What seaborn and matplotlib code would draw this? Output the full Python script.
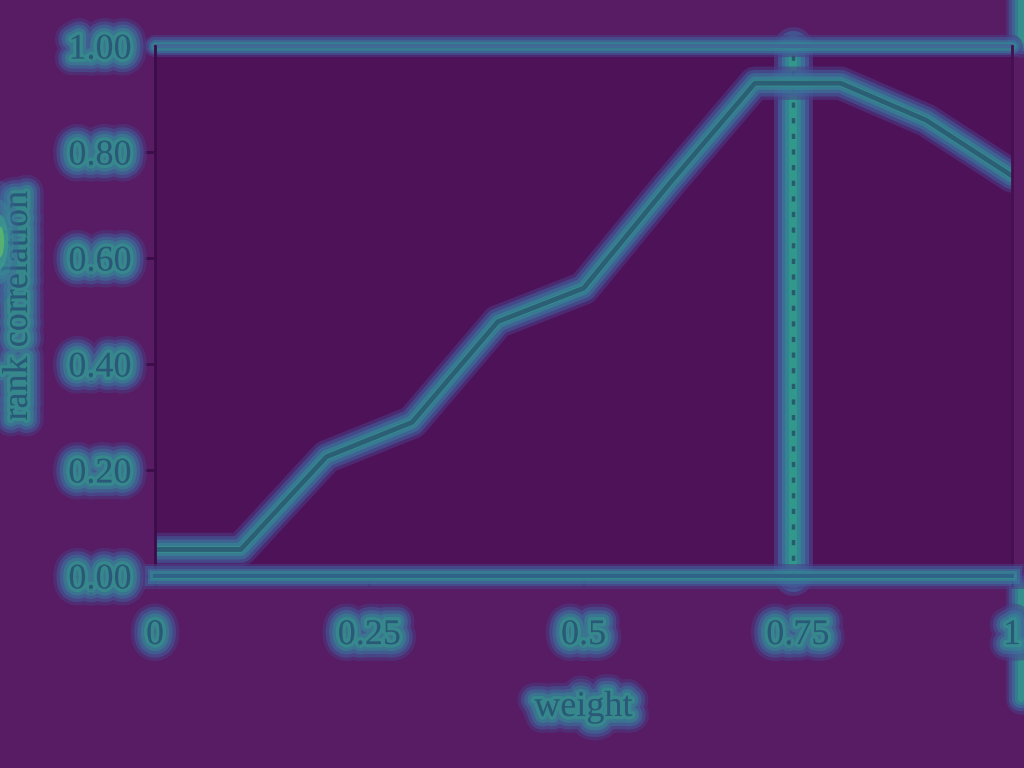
import numpy as np
import pandas as pd
import matplotlib
matplotlib.use("Agg")
import matplotlib.pyplot as plt
import matplotlib.patheffects as pe
from matplotlib.patches import Ellipse
from matplotlib.lines import Line2D
import seaborn as sns

# values
weight = [0.0, 0.1, 0.2, 0.3, 0.4, 0.5, 0.6, 0.7, 0.8, 0.9, 1.0]
rank_corr = [0.05, 0.05, 0.225, 0.29, 0.48, 0.543, 0.74, 0.93, 0.93, 0.86, 0.755]
best_weight = 0.745
xticks = [0, 0.25, 0.5, 0.75, 1]
xticklabels = ["0", "0.25", "0.5", "0.75", "1"]
yticks = [0.0, 0.2, 0.4, 0.6, 0.8, 1.0]

df = pd.DataFrame({"weight": weight, "rank correlation": rank_corr})

sns.set_style("ticks")
plt.rcParams["font.family"] = ["Liberation Serif", "DejaVu Serif"]

bg_out = "#571c63"
bg_in = "#4e1259"
ink = "#2a5878"
dark = "#3a0d48"

# soft glow made of stacked strokes, wide+faint outside, narrow+green inside
glow_cols = ["#4a3f86", "#40609c", "#3a7a9c", "#328f92", "#33a08a"]

def glow(width, normal=True, strength=1.0):
    effs = []
    n = len(glow_cols)
    for i, c in enumerate(glow_cols):
        w = width * (1 - i / n)
        effs.append(pe.Stroke(linewidth=w, foreground=c, alpha=min(1, 0.55 * strength)))
    if normal:
        effs.append(pe.Normal())
    return effs

text_glow = glow(24, strength=0.85)

fig = plt.figure(figsize=(10.24, 7.68), dpi=100, facecolor=bg_out)
ax = fig.add_axes([0.1514, 0.25, 0.8369, 0.69])
ax.set_facecolor(bg_in)

# glow under the best-weight marker, then the dotted line itself
ax.axvline(best_weight, color="#33a08a", linewidth=0.1, clip_on=False,
           path_effects=glow(28, normal=False, strength=1.3))
ax.axvline(best_weight, color="#2a5a70", linestyle=(0, (1.5, 3)), linewidth=2.5)

ax.axhline(1.0, color="#3f6a95", linewidth=3, path_effects=glow(16), clip_on=False)

sns.lineplot(data=df, x="weight", y="rank correlation", ax=ax, color="#2c5f76",
             linewidth=3.5, path_effects=glow(24))

ax.set_xlim(0, 1)
ax.set_ylim(0, 1)
ax.set_xticks(xticks)
ax.set_xticklabels(xticklabels)
ax.set_yticks(yticks)
ax.set_yticklabels([f"{v:.2f}" for v in yticks])
ax.tick_params(axis="both", labelsize=26, colors=dark, labelcolor=ink,
               length=7, width=2, direction="out")
ax.tick_params(axis="x", pad=24)
ax.tick_params(axis="y", pad=10)

ax.spines["top"].set_visible(False)
ax.spines["left"].set_color(dark)
ax.spines["left"].set_linewidth(2)
ax.spines["right"].set_color("#45104f")
ax.spines["right"].set_linewidth(2)
ax.spines["bottom"].set_color("#2f6488")
ax.spines["bottom"].set_linewidth(3)
ax.spines["bottom"].set_path_effects(glow(18))

ax.set_xlabel("weight", fontsize=26, color=ink, labelpad=28)
ax.set_ylabel("rank correlation", fontsize=26, color=ink)
ax.yaxis.set_label_coords(-0.14, 0.51)
ax.xaxis.label.set_path_effects(text_glow)
ax.yaxis.label.set_path_effects(text_glow)
for lab in ax.get_xticklabels() + ax.get_yticklabels():
    lab.set_path_effects(text_glow)

# stray glow at the figure edges, kept behind the axes and its labels
for y0, y1 in [(1.0, 0.945), (0.235, 0.09)]:
    fig.add_artist(Line2D([0.997, 0.997], [y0, y1], transform=fig.transFigure, zorder=-1,
                          color="#33a08a", linewidth=0.1, path_effects=glow(22, normal=False)))
# bright spot on the left edge beside the y label
for w, h, c, a in [(0.036, 0.16, "#40609c", 0.35), (0.026, 0.11, "#3a8a98", 0.45),
                   (0.016, 0.07, "#3aa88a", 0.55), (0.008, 0.04, "#6cc860", 0.6)]:
    fig.add_artist(Ellipse((0.0, 0.685), w, h, transform=fig.transFigure,
                           color=c, alpha=a, linewidth=0, zorder=5))

plt.savefig("out.png", dpi=100, facecolor=bg_out)
